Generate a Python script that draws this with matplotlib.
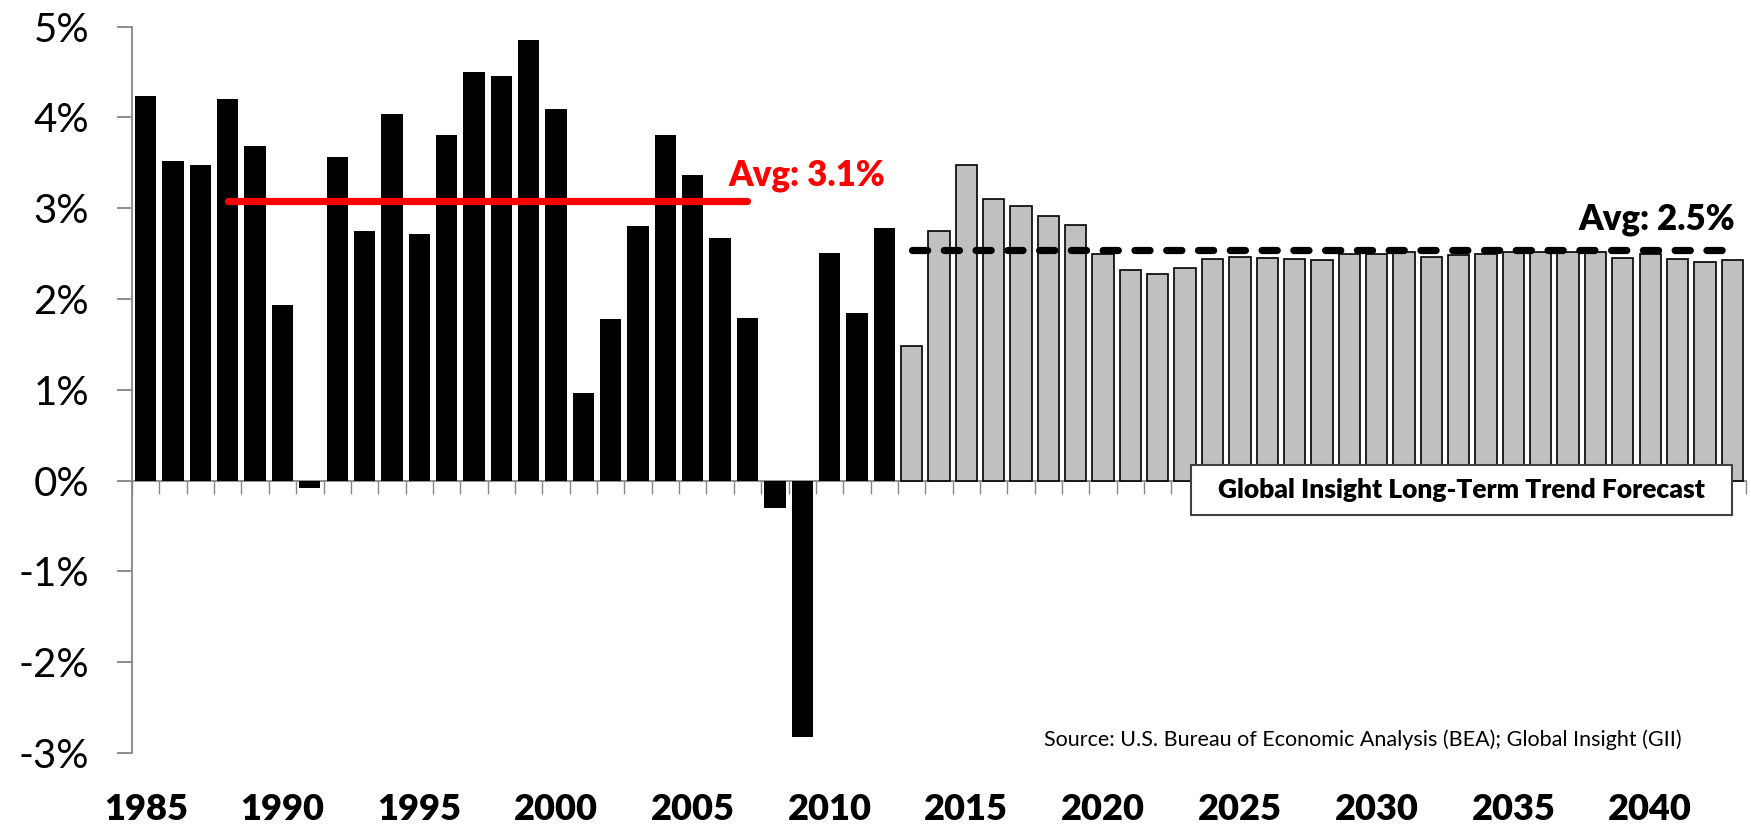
import matplotlib.pyplot as plt
from matplotlib.patches import Rectangle
from matplotlib.transforms import blended_transform_factory
import numpy as np

plt.rcParams['font.family'] = ['Lato', 'DejaVu Sans']

hist_years = list(range(1985, 2013))
hist_growth = [4.24, 3.52, 3.47, 4.20, 3.68, 1.93, -0.08, 3.56, 2.75, 4.04,
               2.72, 3.80, 4.50, 4.45, 4.85, 4.09, 0.96, 1.78, 2.80, 3.80,
               3.36, 2.67, 1.79, -0.30, -2.82, 2.51, 1.85, 2.78]
fcst_years = list(range(2013, 2044))
fcst_growth = [1.48, 2.75, 3.48, 3.10, 3.02, 2.91, 2.81, 2.50, 2.32, 2.28,
               2.34, 2.44, 2.46, 2.45, 2.44, 2.43, 2.50, 2.50, 2.52, 2.46,
               2.48, 2.50, 2.52, 2.52, 2.52, 2.52, 2.45, 2.50, 2.44, 2.41,
               2.43]
hist_avg = 3.08
hist_avg_span = (1988, 2007)
fcst_avg = 2.54
year_labels = list(range(1985, 2041, 5))
y_ticks = list(range(-3, 6))

fig = plt.figure(figsize=(17.51, 8.24), dpi=100)
ax = fig.add_axes([0.0754, 0.0862, 0.9217, 0.8816])

ax.bar(hist_years, hist_growth, width=0.78, color='black', zorder=2)
ax.bar(fcst_years, fcst_growth, width=0.78, color='#C0C0C0',
       edgecolor='black', linewidth=1.2, zorder=2)

# average lines
ax.plot(hist_avg_span, [hist_avg, hist_avg], color='#FF0000', lw=5.2,
        solid_capstyle='round', zorder=3)
ax.plot([fcst_years[0], fcst_years[-1]], [fcst_avg, fcst_avg], color='black',
        lw=5.2, linestyle=(0, (2.1, 2.3)), dash_capstyle='round', zorder=3)
ax.text(2006.3, 3.25, 'Avg: 3.1%', color='#FF0000', fontsize=25,
        fontweight='heavy', ha='left', va='baseline')
ax.text(2043.1, 2.76, 'Avg: 2.5%', color='black', fontsize=25,
        fontweight='heavy', ha='right', va='baseline')

# forecast label box
ax.add_patch(Rectangle((2023.2, -0.374), 19.8, 0.549, facecolor='white',
                       edgecolor='#404040', lw=1.5, zorder=4))
ax.text(2033.1, -0.1, 'Global Insight Long-Term Trend Forecast', fontsize=19,
        fontweight='heavy', ha='center', va='center', zorder=5)

ax.text(2041.15, -2.85,
        'Source: U.S. Bureau of Economic Analysis (BEA); Global Insight (GII)',
        fontsize=15.5, ha='right', va='center')

ax.set_xlim(1984.5, 2043.5)
ax.set_ylim(-3, 5)

# axes styling
for s in ['top', 'right']:
    ax.spines[s].set_visible(False)
ax.spines['left'].set_color('#868686')
ax.spines['left'].set_linewidth(1.3)
ax.spines['bottom'].set_position(('data', 0))
ax.spines['bottom'].set_color('#868686')
ax.spines['bottom'].set_linewidth(1.3)
ax.spines['bottom'].set_zorder(1)

ax.set_yticks(y_ticks)
ax.set_yticklabels([f'{v}%' for v in y_ticks], fontsize=29)
ax.tick_params(axis='y', direction='out', length=11, width=1.3,
               color='#868686', pad=20)

ax.set_xticks(np.arange(1984.5, 2044, 1.0))
ax.set_xticklabels([])
ax.tick_params(axis='x', direction='out', length=9.5, width=1.0,
               color='#868686')

trans = blended_transform_factory(ax.transData, fig.transFigure)
for yr in year_labels:
    ax.text(yr, 0.018, str(yr), transform=trans, fontsize=26,
            fontweight='heavy', ha='center', va='center')

fig.savefig('out.png', dpi=100)
